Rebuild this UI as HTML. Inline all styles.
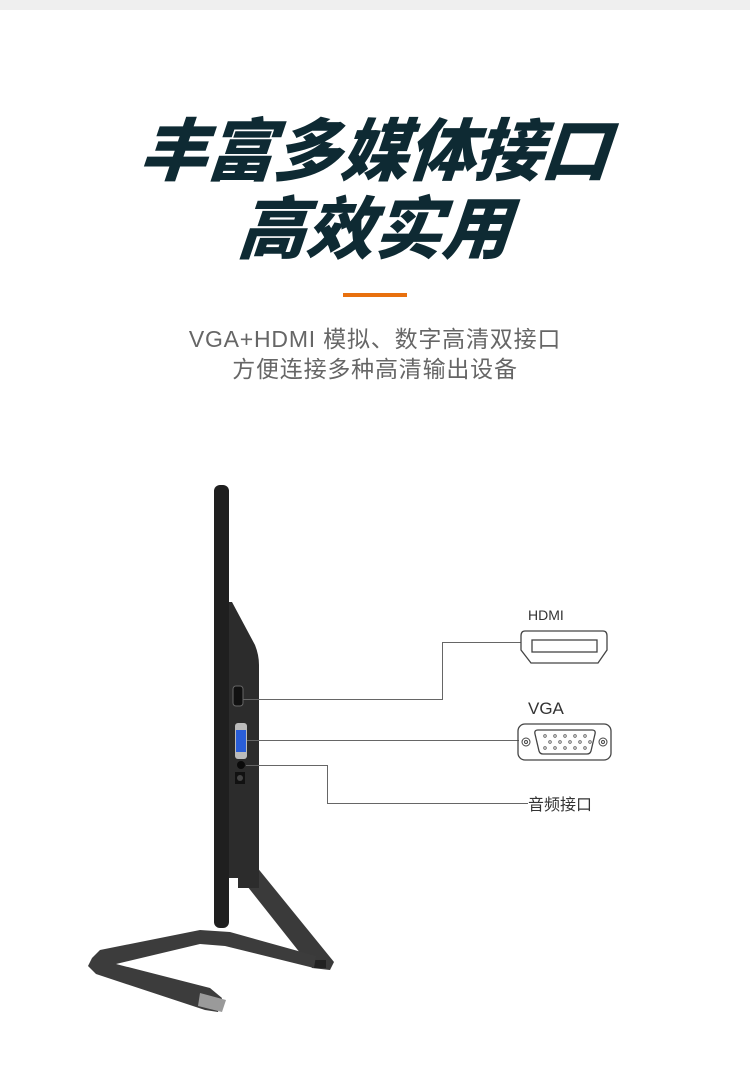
<!DOCTYPE html>
<html><head><meta charset="utf-8"><style>
body{margin:0;width:750px;height:1067px;background:#fff;position:relative;overflow:hidden;font-family:"Liberation Sans","Noto Sans CJK SC",sans-serif}
.top{position:absolute;left:0;top:0;width:750px;height:10px;background:#efefef}
.t{position:absolute;left:0;width:750px;text-align:center;color:#0e2a33;font-weight:900;font-size:68px;font-style:italic;line-height:1;font-family:"Noto Sans CJK SC",sans-serif;transform:skewX(-5deg)}
.s{position:absolute;left:0;width:750px;text-align:center;color:#666;font-size:23px;line-height:1;letter-spacing:0.8px}
</style></head><body>
<div class="top"></div>
<div class="t" style="top:112px;letter-spacing:-1px">丰富多媒体接口</div>
<div class="t" style="top:190px">高效实用</div>
<div style="position:absolute;left:343px;top:293px;width:64px;height:4px;background:#e8700e"></div>
<div class="s" style="top:328px">VGA+HDMI 模拟、数字高清双接口</div>
<div class="s" style="top:358px">方便连接多种高清输出设备</div>
<svg width="750" height="1067" style="position:absolute;left:0;top:0">
<polygon points="236,872 256,866 334,962 330,970 312,968" fill="#3a3a3a"/>
<rect x="314" y="960" width="12" height="8" fill="#222"/>
<polygon points="92,958 100,950 200,930 230,932 316,956 314,968 225,946 200,944 116,964 210,988 222,998 218,1012 205,1010 96,974 88,966" fill="#3c3c3c"/>
<polygon points="200,993 226,1000 222,1012 198,1006" fill="#9a9a9a"/>
<path d="M226,602 L232,602 L255,645 Q259,655 259,665 L259,888 L238,888 L238,878 L226,878 Z" fill="#2c2c2c"/>
<rect x="214" y="485" width="15" height="443" rx="6" fill="#1f1f1f"/>
<rect x="233" y="686" width="10" height="20" rx="3" fill="#111" stroke="#666"/>
<rect x="235" y="723" width="12" height="36" rx="3" fill="#bbb"/>
<rect x="236" y="730" width="10" height="22" fill="#2a5ed8"/>
<circle cx="241" cy="765" r="4" fill="#0a0a0a"/>
<rect x="235" y="772" width="10" height="12" fill="#111"/>
<circle cx="240" cy="778" r="3" fill="#444"/>
<g stroke="#666" stroke-width="1" fill="none">
<polyline points="243,699.5 442.5,699.5 442.5,642.5 521,642.5"/>
<line x1="247" y1="740.5" x2="519" y2="740.5"/>
<polyline points="246,765.5 327.5,765.5 327.5,803.5 528,803.5"/>
</g>
<path d="M525,631 Q521,631 521,636 L521,650 L531,663 L598,663 L607,650 L607,636 Q607,631 603,631 Z" fill="none" stroke="#444" stroke-width="1.3"/>
<rect x="532" y="640" width="65" height="12" fill="none" stroke="#444" stroke-width="1.3"/>
<rect x="518" y="724" width="93" height="36" rx="7" fill="none" stroke="#444" stroke-width="1.3"/>
<path d="M538,730 L592,730 Q596,730 595,734 L591,751 Q590,754 587,754 L543,754 Q540,754 539,751 L535,734 Q534,730 538,730Z" fill="none" stroke="#444" stroke-width="1.3"/>
<circle cx="526" cy="742" r="4" fill="none" stroke="#444"/><circle cx="526" cy="742" r="1.5" fill="none" stroke="#444"/>
<circle cx="603" cy="742" r="4" fill="none" stroke="#444"/><circle cx="603" cy="742" r="1.5" fill="none" stroke="#444"/>
<g fill="none" stroke="#555" stroke-width="0.8">
<circle cx="545" cy="736" r="1.3"/><circle cx="555" cy="736" r="1.3"/><circle cx="565" cy="736" r="1.3"/><circle cx="575" cy="736" r="1.3"/><circle cx="585" cy="736" r="1.3"/>
<circle cx="550" cy="742" r="1.3"/><circle cx="560" cy="742" r="1.3"/><circle cx="570" cy="742" r="1.3"/><circle cx="580" cy="742" r="1.3"/><circle cx="590" cy="742" r="1.3"/>
<circle cx="545" cy="748" r="1.3"/><circle cx="555" cy="748" r="1.3"/><circle cx="565" cy="748" r="1.3"/><circle cx="575" cy="748" r="1.3"/><circle cx="585" cy="748" r="1.3"/>
</g>
<text x="528" y="620" font-size="14" fill="#333" font-family="Liberation Sans,sans-serif">HDMI</text>
<text x="528" y="714" font-size="17" fill="#333" font-family="Liberation Sans,sans-serif">VGA</text>
<text x="528" y="810" font-size="16" fill="#333" font-family="Noto Sans CJK SC,sans-serif">音频接口</text>
</svg>
</body></html>
